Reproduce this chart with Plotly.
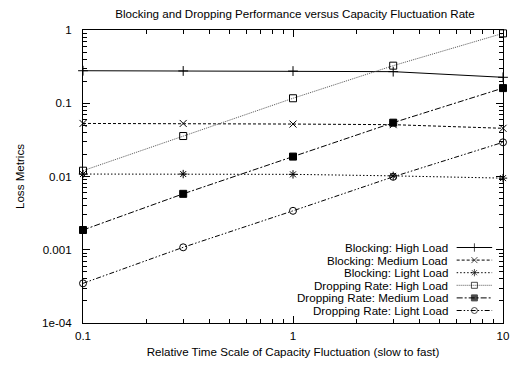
import plotly.graph_objects as go

x_vals = [0.1, 0.3, 1, 3, 10]

blocking_high = [0.278, 0.276, 0.275, 0.27, 0.226]
blocking_medium = [0.053, 0.053, 0.052, 0.051, 0.0455]
blocking_light = [0.0108, 0.0108, 0.0107, 0.0102, 0.0095]
dropping_high = [0.012, 0.0357, 0.117, 0.326, 0.90]
dropping_medium = [0.00186, 0.0058, 0.0187, 0.0543, 0.161]
dropping_light = [0.000348, 0.00108, 0.0034, 0.0099, 0.0293]

names = ["Blocking: High Load", "Blocking: Medium Load", "Blocking: Light Load",
         "Dropping Rate: High Load", "Dropping Rate: Medium Load", "Dropping Rate: Light Load"]
values = [blocking_high, blocking_medium, blocking_light,
          dropping_high, dropping_medium, dropping_light]
styles = [
    dict(dash="solid", symbol="cross-thin", color="black"),
    dict(dash="3px,2px", symbol="x-thin", color="black"),
    dict(dash="1.5px,2px", symbol="asterisk", color="black"),
    dict(dash="1px,1px", symbol="square-open", color="#555"),
    dict(dash="6px,2px,2px,2px", symbol="square", color="black"),
    dict(dash="5px,2px,1.5px,2px,1.5px,2px", symbol="circle-open", color="black"),
]

W, H = 517, 369
L, R, T, B = 83, 8, 30, 46
FS = 11.6
font = dict(family="Liberation Sans, Arial, sans-serif", size=FS, color="black")

fig = go.Figure()
for name, ys, st in zip(names, values, styles):
    fig.add_trace(go.Scatter(
        x=x_vals, y=ys, name=name, mode="lines+markers", showlegend=False,
        line=dict(color=st["color"], width=1, dash=st["dash"]),
        marker=dict(symbol=st["symbol"], size=7, color="black",
                    line=dict(color="black", width=1)),
        cliponaxis=False,
    ))

# custom gnuplot-style legend (text right-aligned, sample on the right)
# drawn on an overlay axis measured in pixels of the plot area
leg_text_right = 455
leg_sample = (462, 498)
leg_first_row = 247.5
leg_row_step = 12.6
for i, (name, st) in enumerate(zip(names, styles)):
    yrow = leg_first_row + i * leg_row_step
    xm = (leg_sample[0] + leg_sample[1]) / 2
    fig.add_trace(go.Scatter(
        x=[leg_sample[0], xm, leg_sample[1]], y=[yrow, yrow, yrow],
        xaxis="x2", yaxis="y2", mode="lines+markers", showlegend=False,
        hoverinfo="skip",
        line=dict(color=st["color"], width=1, dash=st["dash"]),
        marker=dict(symbol=st["symbol"], size=[0, 6, 0], color="black",
                    line=dict(color="black", width=1)),
    ))
    fig.add_annotation(
        x=leg_text_right, y=yrow, xref="x2", yref="y2", text=name,
        showarrow=False, xanchor="right", yanchor="middle", font=font,
    )

minor_x = [v * m for v in (0.1, 1) for m in range(2, 10)]
minor_y = [v * m for v in (1e-4, 1e-3, 1e-2, 1e-1) for m in range(2, 10)]

fig.update_layout(
    width=W, height=H,
    margin=dict(l=L, r=R, t=T, b=B),
    paper_bgcolor="white", plot_bgcolor="white",
    font=font,
    title=dict(text="Blocking and Dropping Performance versus Capacity Fluctuation Rate",
               x=295 / W, xanchor="center", y=1 - 13.5 / H, yanchor="middle",
               font=dict(size=FS)),
    showlegend=False,
    xaxis2=dict(overlaying="x", range=[L, W - R], visible=False, fixedrange=True),
    yaxis2=dict(overlaying="y", range=[H - B, T], visible=False, fixedrange=True),
    xaxis=dict(
        type="log", range=[-1, 1],
        tickvals=[0.1, 1, 10], ticktext=["0.1", "1", "10"],
        ticks="inside", ticklen=7, tickwidth=1, tickcolor="black",
        minor=dict(tickvals=minor_x, ticks="inside", ticklen=4, tickcolor="black"),
        showline=True, linecolor="black", linewidth=1, mirror="ticks",
        showgrid=False, zeroline=False, ticklabelstandoff=2,
        tickfont=dict(size=FS),
        title=dict(text="Relative Time Scale of Capacity Fluctuation (slow to fast)",
                   standoff=6, font=dict(size=FS)),
    ),
    yaxis=dict(
        type="log", range=[-4, 0],
        tickvals=[1e-4, 1e-3, 1e-2, 1e-1, 1],
        ticktext=["1e-04", "0.001", "0.01", "0.1", "1"],
        ticks="inside", ticklen=7, tickwidth=1, tickcolor="black",
        minor=dict(tickvals=minor_y, ticks="inside", ticklen=4, tickcolor="black"),
        showline=True, linecolor="black", linewidth=1, mirror="ticks",
        showgrid=False, zeroline=False, ticklabelstandoff=8,
        tickfont=dict(size=FS),
        title=dict(text="Loss Metrics", standoff=14, font=dict(size=FS)),
    ),
)

fig.write_html("out.html")
